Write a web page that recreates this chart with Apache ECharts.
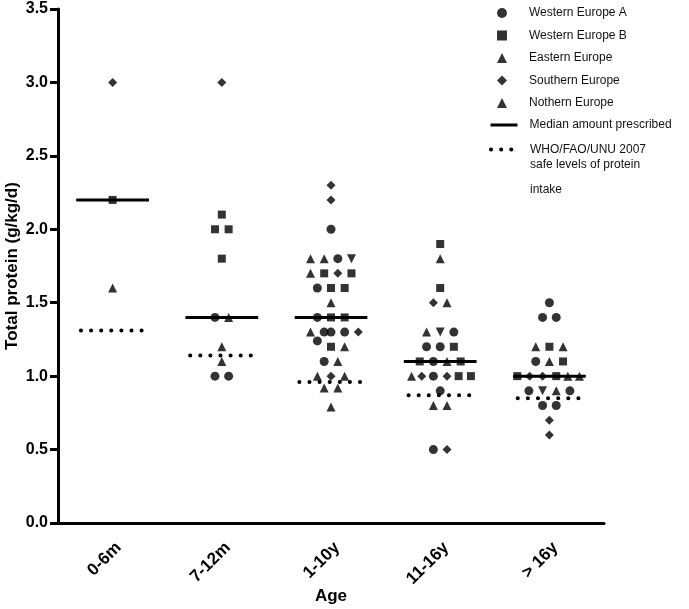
<!DOCTYPE html>
<html><head><meta charset="utf-8">
<script src="https://cdn.jsdelivr.net/npm/echarts@6/dist/echarts.min.js"></script>
<style>html,body{margin:0;padding:0;background:#fff}#c{width:689px;height:609px}</style>
</head><body><div id="c"></div>
<script>
// ---- data ----
const categories = ['0-6m', '7-12m', '1-10y', '11-16y', '> 16y'];
// each point: [category index, horizontal slot within the group (half-steps from centre), total protein g/kg/d]
const westernEuropeA = [
  [1,-1,1.4],[1,-1,1.0],[1,1,1.0],
  [2,0,2.0],[2,1,1.8],[2,-2,1.6],[2,-2,1.4],[2,-1,1.3],[2,0,1.3],[2,2,1.3],[2,-2,1.24],[2,-1,1.1],
  [3,2,1.3],[3,-2,1.2],[3,0,1.2],[3,-1,1.1],[3,-1,1.0],[3,0,0.9],[3,-1,0.5],
  [4,0,1.5],[4,-1,1.4],[4,1,1.4],[4,-2,1.1],[4,-3,0.9],[4,3,0.9],[4,-1,0.8],[4,1,0.8]
];
const westernEuropeB = [
  [0,0,2.2],
  [1,0,2.1],[1,-1,2.0],[1,1,2.0],[1,0,1.8],
  [2,-1,1.7],[2,3,1.7],[2,0,1.6],[2,2,1.6],[2,0,1.4],[2,2,1.4],[2,0,1.2],
  [3,0,1.9],[3,0,1.6],[3,2,1.2],[3,-3,1.1],[3,3,1.1],[3,2.7,1.0],[3,4.5,1.0],
  [4,0,1.2],[4,2,1.1],[4,-4.7,1.0],[4,1,1.0]
];
const easternEurope = [
  [2,3,1.8],
  [3,0,1.3],
  [4,-1,0.9]
];
const southernEurope = [
  [0,0,3.0],
  [1,0,3.0],
  [2,0,2.3],[2,0,2.2],[2,1,1.7],[2,4,1.3],[2,0,1.0],
  [3,-1,1.5],[3,-2.7,1.0],[3,1,1.0],[3,1,0.5],
  [4,-2.9,1.0],[4,-1,1.0],[4,0,0.7],[4,0,0.6]
];
const northernEurope = [
  [0,0,1.6],
  [1,1,1.4],[1,0,1.2],[1,0,1.1],
  [2,-3,1.8],[2,-1,1.8],[2,-3,1.7],[2,0,1.5],[2,-3,1.3],[2,2,1.2],[2,1,1.1],[2,-2,1.0],[2,2,1.0],[2,-1,0.92],[2,1,0.92],[2,0,0.79],
  [3,0,1.8],[3,1,1.5],[3,-2,1.3],[3,1,1.1],[3,-4.2,1.0],[3,-1,0.8],[3,1,0.8],
  [4,-2,1.2],[4,2,1.2],[4,0,1.1],[4,2.7,1.0],[4,4.4,1.0],[4,1,0.9]
];
const medianPrescribed = [2.2, 1.4, 1.4, 1.1, 1.0];
const whoSafeLevel = [1.31, 1.14, 0.96, 0.87, 0.85];

const WHO_NAME = 'WHO/FAO/UNU 2007 safe levels of protein intake';
const MEDIAN_NAME = 'Median amount prescribed';

// ---- build ----
const SLOT = 1 / 16;
const toXY = arr => arr.map(([c, s, v]) => [c + s * SLOT, v]);
function segments(vals, half) {
  const d = [];
  vals.forEach((v, i) => { d.push([i - half, v], [i + half, v], [i + half + 0.05, '-']); });
  return d;
}
const FONT = "'Liberation Sans', Arial, sans-serif";
const scatterBase = (name, data, symbol, size, rotate) => ({
  name, type: 'scatter', xAxisIndex: 1, data: toXY(data), symbol, symbolSize: size,
  symbolRotate: rotate || 0, itemStyle: { color: '#000' }, z: 3, silent: true
});
const noDot = { color: 'rgba(0,0,0,0)', borderWidth: 0 };
const legendText = { fontFamily: FONT, fontSize: 12, color: '#111', lineHeight: 14 };

const chart = echarts.init(document.getElementById('c'), null, { renderer: 'canvas' });
chart.setOption({
  animation: false,
  backgroundColor: '#fff',
  grid: { left: 58, right: 85, top: 9, bottom: 86, containLabel: false, outerBoundsMode: 'none' },
  legend: [{
    orient: 'vertical', left: 497, top: 6, padding: 0,
    itemWidth: 10, itemHeight: 10, itemGap: 8.5, selectedMode: false,
    textStyle: Object.assign({}, legendText, { padding: [0, 0, 0, 17] }),
    data: ['Western Europe A', 'Western Europe B', 'Eastern Europe', 'Southern Europe', 'Nothern Europe']
  }, {
    orient: 'vertical', left: 489, top: 118, padding: 0,
    itemWidth: 27, itemHeight: 10, selectedMode: false,
    textStyle: Object.assign({}, legendText, { padding: [0, 0, 0, 7] }),
    lineStyle: { width: 'inherit' },
    data: [{ name: MEDIAN_NAME, itemStyle: noDot }]
  }, {
    orient: 'vertical', left: 489, top: 143.5, padding: 0,
    itemWidth: 27, itemHeight: 10, selectedMode: false,
    textStyle: {
      fontFamily: FONT, fontSize: 12, color: '#111', padding: [50, 0, 0, 7],
      rich: {
        a: { fontFamily: FONT, fontSize: 12, color: '#111', lineHeight: 15 },
        b: { fontFamily: FONT, fontSize: 12, color: '#111', lineHeight: 35 }
      }
    },
    lineStyle: { width: 'inherit' },
    formatter: () => '{a|WHO/FAO/UNU 2007}\n{a|safe levels of protein}\n{b|intake}',
    data: [{ name: WHO_NAME, itemStyle: noDot }]
  }],
  xAxis: [{
    type: 'category', data: categories, boundaryGap: true,
    axisLine: { onZero: false, lineStyle: { color: '#000', width: 3 } },
    axisTick: { alignWithLabel: true, length: 8, lineStyle: { color: '#000', width: 3 } },
    axisLabel: { rotate: 45, interval: 0, margin: 16, verticalAlign: 'top', fontFamily: FONT, fontSize: 17, fontWeight: 'bold', color: '#000' },
    name: 'Age', nameLocation: 'middle', nameGap: 65, nameMoveOverlap: false,
    nameTextStyle: { fontFamily: FONT, fontSize: 17, fontWeight: 'bold', color: '#000' }
  }, {
    type: 'value', min: -0.5, max: 4.5, show: false
  }],
  yAxis: {
    type: 'value', min: 0, max: 3.5, interval: 0.5,
    splitLine: { show: false },
    axisLine: { show: true, onZero: false, lineStyle: { color: '#000', width: 3 } },
    axisTick: { show: true, length: 8, lineStyle: { color: '#000', width: 3 } },
    axisLabel: { formatter: v => v.toFixed(1), margin: 10, fontFamily: FONT, fontSize: 16, fontWeight: 'bold', color: '#000' },
    name: 'Total protein (g/kg/d)', nameLocation: 'middle', nameGap: 37, nameMoveOverlap: false,
    nameTextStyle: { fontFamily: FONT, fontSize: 17, fontWeight: 'bold', color: '#000' }
  },
  series: [
    scatterBase('Western Europe A', westernEuropeA, 'circle', 9),
    scatterBase('Western Europe B', westernEuropeB, 'rect', 8),
    scatterBase('Eastern Europe', easternEurope, 'triangle', 9, 180),
    scatterBase('Southern Europe', southernEurope, 'diamond', 9),
    scatterBase('Nothern Europe', northernEurope, 'triangle', 9),
    {
      name: MEDIAN_NAME, type: 'line', xAxisIndex: 1, data: segments(medianPrescribed, 0.333),
      symbol: 'none', connectNulls: false, silent: true, z: 2,
      lineStyle: { color: '#000', width: 3 }, itemStyle: { color: '#000' }
    },
    {
      name: WHO_NAME, type: 'line', xAxisIndex: 1, data: segments(whoSafeLevel, 0.29),
      symbol: 'none', connectNulls: false, silent: true, z: 2,
      lineStyle: { color: '#000', width: 4, type: [0.1, 10], cap: 'round' }, itemStyle: { color: '#000' }
    }
  ]
});
</script></body></html>
